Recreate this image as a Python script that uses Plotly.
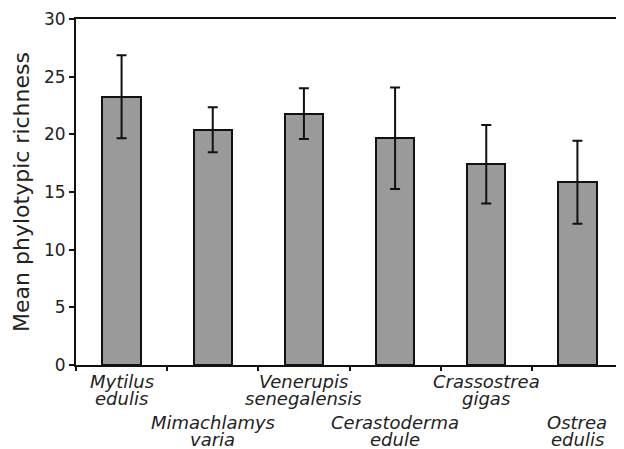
import plotly.graph_objects as go

genus = ["Mytilus", "Mimachlamys", "Venerupis", "Cerastoderma", "Crassostrea", "Ostrea"]
species = ["edulis", "varia", "senegalensis", "edule", "gigas", "edulis"]
means = [23.25, 20.4, 21.8, 19.65, 17.4, 15.85]
errors = [3.6, 1.95, 2.2, 4.4, 3.4, 3.6]
y_ticks = [0, 5, 10, 15, 20, 25, 30]

cats = [f"{g} {s}" for g, s in zip(genus, species)]
FONT = "DejaVu Sans"

fig = go.Figure()
fig.add_trace(go.Bar(
    x=cats, y=means, width=0.42,
    marker=dict(color="#9a9a9a", line=dict(color="#111111", width=2)),
    error_y=dict(type="data", array=errors, visible=True,
                 color="#111111", thickness=2, width=5),
))

annotations = []
for i, (g, s) in enumerate(zip(genus, species)):
    row = i % 2
    base = -16 if row == 0 else -57
    annotations.append(dict(x=cats[i], y=0, xref="x", yref="paper", text=f"<i>{g}</i>",
                            showarrow=False, yanchor="middle", yshift=base,
                            font=dict(family=FONT, size=18, color="#222222")))
    annotations.append(dict(x=cats[i], y=0, xref="x", yref="paper", text=f"<i>{s}</i>",
                            showarrow=False, yanchor="middle", yshift=base - 17,
                            font=dict(family=FONT, size=18, color="#222222")))

fig.update_layout(
    width=616, height=441,
    margin=dict(l=68, r=1, t=11, b=84),
    plot_bgcolor="white", paper_bgcolor="white",
    showlegend=False,
    annotations=annotations,
    bargap=0,
)
fig.update_xaxes(
    type="category", showticklabels=False, tickson="boundaries",
    ticks="outside", ticklen=4, tickwidth=2, tickcolor="#111111",
    showline=True, linecolor="#111111", linewidth=2, mirror=True,
    showgrid=False, zeroline=False,
)
fig.update_yaxes(
    range=[0, 30], tickvals=y_ticks,
    ticks="outside", ticklen=5, tickwidth=2, tickcolor="#111111",
    showline=True, linecolor="#111111", linewidth=2, mirror=True,
    showgrid=False, zeroline=False, automargin=False,
    tickfont=dict(family=FONT, size=17, color="#222222"),
    title=dict(text="Mean phylotypic richness", standoff=8,
               font=dict(family=FONT, size=22, color="#222222")),
)

fig.write_html("out.html")
